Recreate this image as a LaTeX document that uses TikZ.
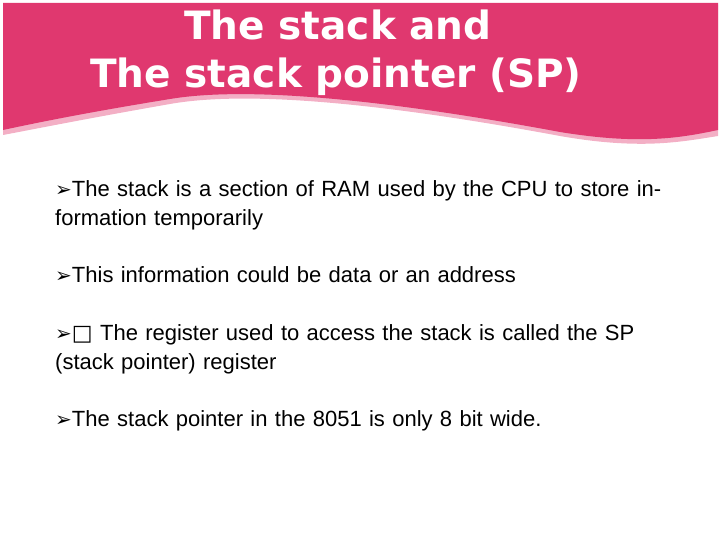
\documentclass[tikz,border=0pt]{standalone}
\usepackage{fontspec}
\setmainfont{Liberation Sans}
\newfontfamily\djsym{DejaVu Sans}
\newfontfamily\ttlfont{DejaVu Sans}
\definecolor{pinkhdr}{HTML}{E0386F}
\begin{document}
\begin{tikzpicture}[x=1pt,y=-1pt,
  body/.style={anchor=north west,inner sep=0pt,font=\fontsize{22}{29}\selectfont,align=left,text width=625pt},
  blt/.style={},
  ttlstyle/.style={text=white,font=\ttlfont\fontsize{39}{50}\selectfont\bfseries,inner sep=0pt}]
\useasboundingbox (0,0) rectangle (720,540);
\fill[pinkhdr!40] (3,5) -- (718,5) -- (718,136) .. controls (680,142) and (640,150) .. (560,136)
  .. controls (420,110) and (260,88) .. (170,104) .. controls (90,118) and (40,128) .. (3,135) -- cycle;
\fill[pinkhdr] (3,3) -- (718,3) -- (718,130) .. controls (680,138) and (640,145) .. (560,132)
  .. controls (420,106) and (260,84) .. (170,99) .. controls (90,112) and (40,122) .. (3,130) -- cycle;
\node[ttlstyle] (t1) at (338,25) {The stack and};
\node[ttlstyle] (t2) at (336,77) {The stack pointer (SP)};
\node[body] (b1) at (55,180) {{\djsym\fontsize{20}{20}\selectfont ➢}The stack is a section of RAM used by the CPU to store information temporarily};
\node[body] (b2) at (55,266) {{\djsym\fontsize{20}{20}\selectfont ➢}This information could be data or an address};
\node[body] (b3) at (55,324) {{\djsym\fontsize{20}{20}\selectfont ➢}{\djsym □} The register used to access the stack is called the SP (stack pointer) register};
\node[body] (b4) at (55,410) {{\djsym\fontsize{20}{20}\selectfont ➢}The stack pointer in the 8051 is only 8 bit wide.};
\end{tikzpicture}
\end{document}
